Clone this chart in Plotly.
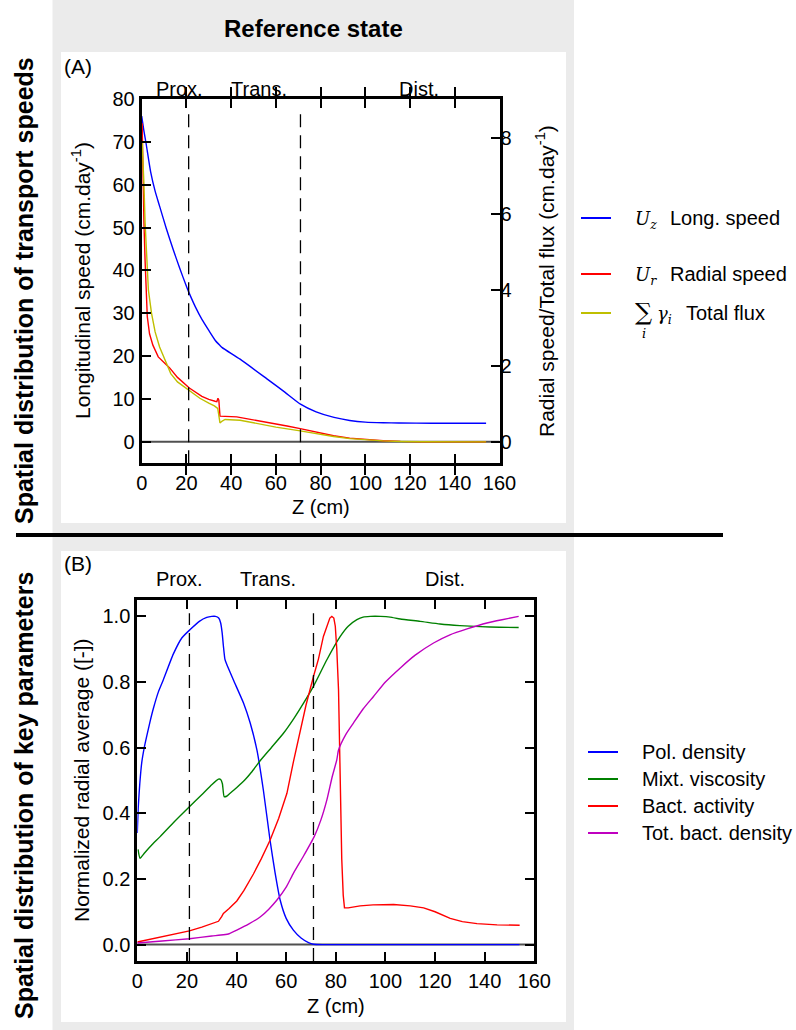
import plotly.graph_objects as go

W, H = 796, 1030

# ---- panel A : transport speeds (left axis: long. speed, right axis: radial / flux)
z_long = [0, 1, 2, 4, 6, 8, 11, 14, 17, 20, 21, 24, 27, 30, 33, 35, 36, 44, 56, 64, 71, 78, 86, 93, 100, 108, 115,
          130, 154]
u_long = [76, 72.5, 69.5, 63, 58.5, 55, 49.8, 45, 40.5, 36.3, 35, 31.5, 28.5, 26, 23.6, 22.5, 22, 19.3, 14.7, 11.6,
          8.8, 7.0, 5.7, 5.0, 4.6, 4.45, 4.4, 4.35, 4.35]

z_rad = [0.2, 0.5, 1.0, 1.5, 2.0, 2.5, 3.5, 5.0, 7.4, 10, 12.5, 16, 21.3, 26.9, 30, 32.8, 33.6, 34.1, 34.5, 35.0,
         38, 42.5, 48, 53, 60, 65, 70.9, 78, 85.8, 93, 100.8, 108, 115.7, 125, 154]
u_rad = [8.4, 7.2, 5.8, 4.8, 3.9, 3.3, 2.85, 2.55, 2.24, 2.08, 1.95, 1.7, 1.42, 1.2, 1.12, 1.07, 1.06, 1.15, 1.1, 0.68,
         0.67, 0.66, 0.6, 0.55, 0.47, 0.42, 0.35, 0.25, 0.16, 0.1, 0.055, 0.03, 0.012, 0.003, 0]

z_flux = [0.2, 0.5, 1.0, 1.5, 2.2, 3.0, 4.4, 6.0, 8.0, 10, 13, 16, 21.3, 26, 30, 32.5, 34.0, 34.6, 35.0, 36, 37.3,
          44, 53, 60, 70.9, 78, 85.8, 93, 100.8, 108, 115.7, 125, 154]
u_flux = [7.9, 7.6, 6.8, 5.8, 4.9, 4.0, 3.39, 2.9, 2.5, 2.2, 1.8, 1.58, 1.36, 1.15, 1.02, 0.95, 0.88, 0.7, 0.5, 0.55, 0.59,
          0.57, 0.46, 0.39, 0.29, 0.21, 0.14, 0.085, 0.05, 0.025, 0.01, 0.002, 0]

# ---- panel B : normalized radial averages
z_pol = [0, 0.4, 1.0, 1.8, 2.8, 3.8, 5, 6.5, 8.5, 10.5, 14.5, 18, 21.3, 25, 28, 30, 31.5, 32.8, 33.6, 34.2, 34.7,
         35.3, 36, 38.7, 42.8, 45.5, 48.2, 50.8, 53.5, 55.5, 57.6, 60, 62.9, 66, 69, 71, 75, 154]
pol = [0.34, 0.42, 0.49, 0.555, 0.6, 0.635, 0.675, 0.72, 0.77, 0.807, 0.885, 0.935, 0.96, 0.985, 0.997, 1.0, 1.0, 0.995,
       0.98, 0.95, 0.91, 0.87, 0.855, 0.807, 0.736, 0.675, 0.593, 0.471, 0.318, 0.22, 0.135, 0.08, 0.044, 0.02, 0.006,
       0.001, 0, 0]

z_visc = [0.3, 1.1, 3, 6, 9.2, 15, 21, 26.6, 30, 32.7, 33.6, 34.3, 35.0, 36, 37.4, 40, 43.4, 46, 49.5, 54, 58.9, 63,
          67, 71, 76.4, 81.8, 85, 88.5, 91, 93.9, 98, 101.9, 106, 114, 122, 130, 138.2, 146, 153.7]
visc = [0.29, 0.263, 0.28, 0.305, 0.329, 0.375, 0.42, 0.461, 0.487, 0.504, 0.503, 0.49, 0.451, 0.452, 0.461, 0.478,
        0.502, 0.525, 0.56, 0.6, 0.644, 0.688, 0.736, 0.787, 0.868, 0.939, 0.97, 0.99, 0.998, 1.0, 1.0, 0.998, 0.992,
        0.985, 0.977, 0.972, 0.969, 0.967, 0.966]

z_act = [0, 5, 10, 15, 21, 26, 30, 32.7, 34.0, 34.7, 37, 40.1, 43, 46.8, 50, 53.5, 57, 60.3, 63, 65.6, 68, 71, 73, 75,
         76.5, 77.6, 78.4, 79.2, 79.8, 80.4, 81.1, 81.8, 82.4, 83.0, 83.5, 85, 89.8, 95, 100, 103.3, 110, 115.4, 120,
         126.1, 131, 136.9, 145, 154.1]
act = [0.008, 0.016, 0.024, 0.032, 0.042, 0.053, 0.063, 0.071, 0.085, 0.095, 0.11, 0.133, 0.165, 0.215, 0.262, 0.318,
       0.385, 0.461, 0.56, 0.654, 0.73, 0.817, 0.87, 0.939, 0.975, 0.995, 1.0, 0.995, 0.97, 0.9, 0.776, 0.48, 0.26,
       0.15, 0.112, 0.112, 0.118, 0.121, 0.122, 0.122, 0.118, 0.112, 0.1, 0.08, 0.07, 0.064, 0.06, 0.059]

z_bact = [0, 10, 21, 30, 34.7, 37, 40.1, 45, 49.5, 53, 56.2, 60, 62.9, 67, 71.3, 74, 76.4, 78.5, 80.4, 81.1, 84, 87.1,
          91, 95.2, 100, 106, 112, 119.4, 126, 132.9, 140.9, 147, 153.7]
bact = [0.005, 0.011, 0.018, 0.026, 0.03, 0.033, 0.044, 0.063, 0.084, 0.108, 0.135, 0.175, 0.217, 0.27, 0.329, 0.38,
        0.441, 0.51, 0.563, 0.593, 0.64, 0.675, 0.718, 0.756, 0.8, 0.843, 0.882, 0.919, 0.944, 0.962, 0.98, 0.99, 1.0]

zone_bounds = [21, 71]
zone_names = ['Prox.', 'Trans.', 'Dist.']
zone_label_z = [17, 52.5, 124]

BLUE, RED, YEL, GRN, MAG = '#0000ff', '#ff0000', '#bfbf00', '#008000', '#bf00bf'
FONT = 'Liberation Sans, Arial, sans-serif'


def px(x):
    return x / W


def py(y):
    return 1 - y / H


fig = go.Figure()

lw = 1.4


def line(z, v, col, xa, ya, smooth=True):
    shape = dict(shape='spline', smoothing=0.5) if smooth else dict(shape='linear')
    return go.Scatter(x=z, y=v, mode='lines', line=dict(color=col, width=lw, **shape), xaxis=xa, yaxis=ya)


fig.add_trace(line(z_long, u_long, BLUE, 'x', 'y'))
fig.add_trace(line(z_rad, u_rad, RED, 'x', 'y2', smooth=False))
fig.add_trace(line(z_flux, u_flux, YEL, 'x', 'y2', smooth=False))

fig.add_trace(line(z_pol, pol, BLUE, 'x2', 'y3'))
fig.add_trace(line(z_visc, visc, GRN, 'x2', 'y3'))
fig.add_trace(line(z_act, act, RED, 'x2', 'y3', smooth=False))
fig.add_trace(line(z_bact, bact, MAG, 'x2', 'y3'))

tick_style = dict(ticks='inside', ticklen=9, tickwidth=1.5, tickcolor='black', showline=True, linewidth=3,
                  linecolor='black', showgrid=False, zeroline=False, automargin=False,
                  tickfont=dict(family=FONT, size=20, color='black'))

shapes = [
    # grey frame + white panels
    dict(type='rect', xref='paper', yref='paper', x0=px(52.5), x1=px(574), y0=0, y1=1,
         fillcolor='#ebebeb', line=dict(width=0), layer='below'),
    dict(type='rect', xref='paper', yref='paper', x0=px(61), x1=px(566), y0=py(523), y1=py(52),
         fillcolor='white', line=dict(width=0), layer='below'),
    dict(type='rect', xref='paper', yref='paper', x0=px(61), x1=px(566), y0=py(1022), y1=py(551),
         fillcolor='white', line=dict(width=0), layer='below'),
    dict(type='line', xref='paper', yref='paper', x0=px(16), x1=px(723), y0=py(535), y1=py(535),
         line=dict(color='black', width=4)),
    # zero lines
    dict(type='line', xref='x domain', yref='y', x0=0, x1=1, y0=0, y1=0,
         line=dict(color='#505050', width=2), layer='below'),
    dict(type='line', xref='x2 domain', yref='y3', x0=0, x1=1, y0=0, y1=0,
         line=dict(color='#505050', width=2), layer='below'),
]
for zb in zone_bounds:
    shapes.append(dict(type='line', xref='x', yref='y', x0=zb, x1=zb, y0=-5, y1=77,
                       line=dict(color='black', width=1.3, dash='13px,8px')))
    shapes.append(dict(type='line', xref='x2', yref='y3', x0=zb, x1=zb, y0=-0.05, y1=1.01,
                       line=dict(color='black', width=1.3, dash='13px,8px')))

# legend swatches
leg_a_y = [218, 274, 313]
leg_a_col = [BLUE, RED, YEL]
for yy, c in zip(leg_a_y, leg_a_col):
    shapes.append(dict(type='line', xref='paper', yref='paper', x0=px(581), x1=px(611), y0=py(yy), y1=py(yy),
                       line=dict(color=c, width=2)))
leg_b_y = [752, 779, 806, 833]
leg_b_col = [BLUE, GRN, RED, MAG]
leg_b_txt = ['Pol. density', 'Mixt. viscosity', 'Bact. activity', 'Tot. bact. density']
for yy, c in zip(leg_b_y, leg_b_col):
    shapes.append(dict(type='line', xref='paper', yref='paper', x0=px(588), x1=px(618), y0=py(yy), y1=py(yy),
                       line=dict(color=c, width=2)))


def txt(x, y, s, size=20, bold=False, angle=0, xanchor='center', xref='paper', family=FONT):
    if bold:
        s = '<b>' + s + '</b>'
    return dict(x=x, y=y, xref=xref, yref='paper', text=s, showarrow=False, textangle=angle,
                xanchor=xanchor, yanchor='middle', font=dict(family=family, size=size, color='black'))


ann = [
    txt(px(313), py(28), 'Reference state', size=24, bold=True),
    txt(px(24), py(291), 'Spatial distribution of transport speeds', size=25, bold=True, angle=-90),
    txt(px(24), py(796), 'Spatial distribution of key parameters', size=25, bold=True, angle=-90),
    txt(px(62), py(66), '(A)', size=21, xanchor='left'),
    txt(px(62), py(563), '(B)', size=21, xanchor='left'),
    txt(px(81), py(281), 'Longitudinal speed (cm.day<sup>-1</sup>)', size=21, angle=-90),
    txt(px(545), py(281), 'Radial speed/Total flux (cm.day<sup>-1</sup>)', size=21, angle=-90),
    txt(px(81), py(780), 'Normalized radial average ([-])', size=21, angle=-90),
    txt(px(320.6), py(506.5), 'Z (cm)'),
    txt(px(335.7), py(1006), 'Z (cm)'),
]
for name, zc in zip(zone_names, zone_label_z):
    ann.append(txt(zc, py(89), name, xref='x'))
    ann.append(txt(zc, py(579), name, xref='x2'))

# legend A texts (math-like parts in serif italics)
MATH = 'DejaVu Serif, serif'
ann += [
    txt(px(633), py(220), '<i>U</i><sub><i>z</i></sub>', size=18, xanchor='left', family=MATH),
    txt(px(668), py(218), 'Long. speed', xanchor='left'),
    txt(px(633), py(276), '<i>U</i><sub><i>r</i></sub>', size=18, xanchor='left', family=MATH),
    txt(px(668), py(274), 'Radial speed', xanchor='left'),
    txt(px(633), py(312), '∑', size=24, xanchor='left', family=MATH),
    txt(px(640), py(333), '<i>i</i>', size=13, xanchor='left', family=MATH),
    txt(px(655), py(315), '<i>γ</i><sub><i>i</i></sub>', size=18, xanchor='left', family=MATH),
    txt(px(684), py(313), 'Total flux', xanchor='left'),
]
for yy, t in zip(leg_b_y, leg_b_txt):
    ann.append(txt(px(640), py(yy), t, xanchor='left'))

fig.update_layout(
    template='none',
    width=W, height=H, margin=dict(l=0, r=0, t=0, b=0, pad=0, autoexpand=False), autosize=False,
    paper_bgcolor='white', plot_bgcolor='white', showlegend=False,
    xaxis=dict(domain=[px(141.7), px(499.5)], anchor='y', range=[0, 160], dtick=20, mirror='allticks', **tick_style),
    yaxis=dict(domain=[py(463.3), py(99)], anchor='x', range=[-5, 80], tickvals=list(range(0, 81, 10)),
               mirror=True, **tick_style),
    yaxis2=dict(overlaying='y', side='right', anchor='x', range=[-0.565, 9.04], tickvals=[0, 2, 4, 6, 8],
                **{**tick_style, 'showline': False}),
    xaxis2=dict(domain=[px(137.3), px(534.3)], anchor='y3', range=[0, 160], dtick=20, mirror='allticks', **tick_style),
    yaxis3=dict(domain=[py(961), py(600)], anchor='x2', range=[-0.05, 1.05], tickvals=[0, 0.2, 0.4, 0.6, 0.8, 1.0],
                tickformat='.1f', mirror='allticks', **tick_style),
    shapes=shapes, annotations=ann,
)

# page body has a default 8px margin; drop it so the figure sits at the window origin
fig.write_html('out.html', config={'displayModeBar': False},
               post_script="document.body.style.margin='0px';")
